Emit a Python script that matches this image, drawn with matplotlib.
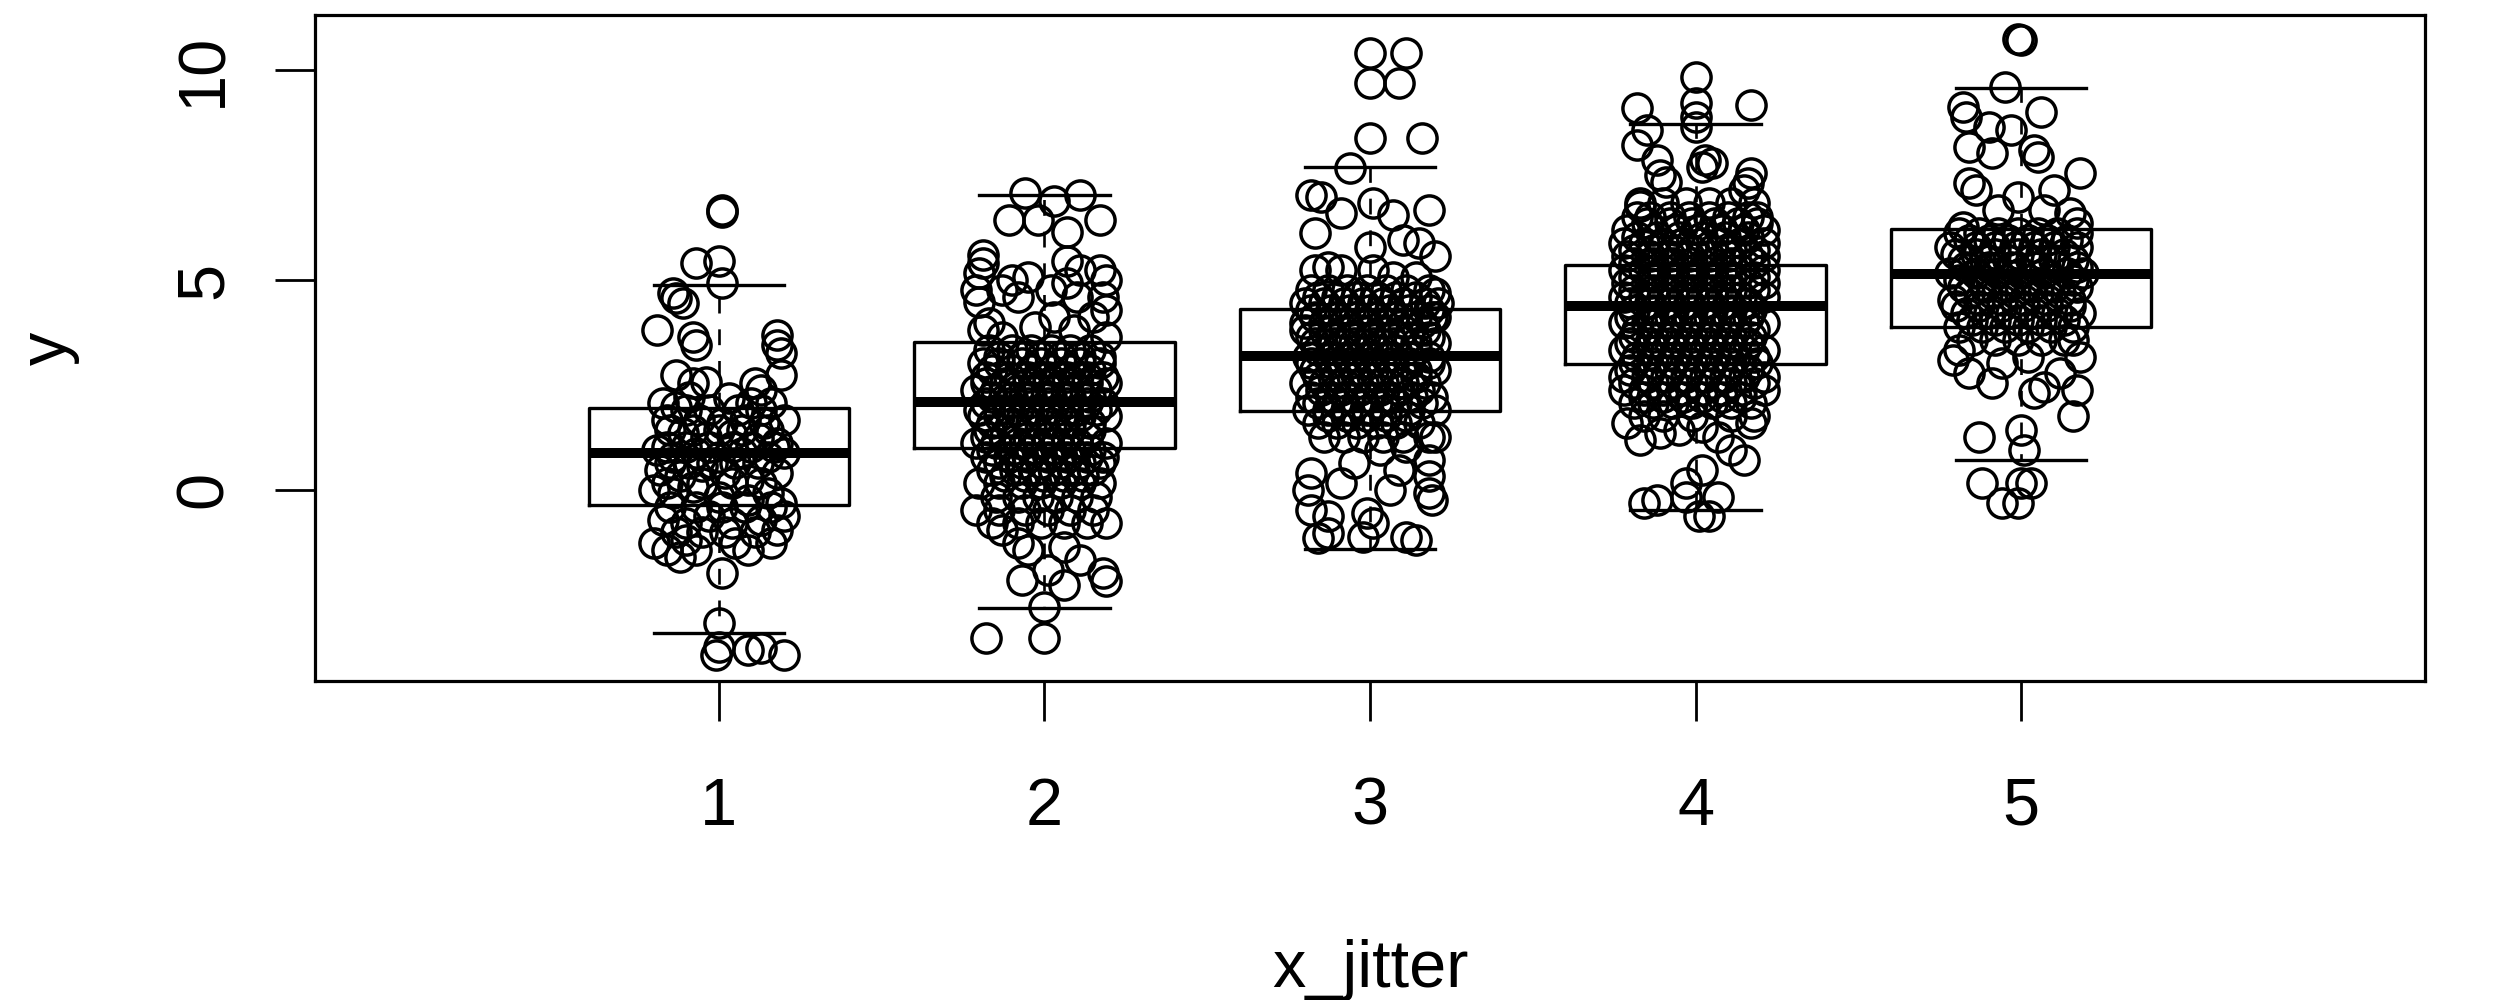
import matplotlib
matplotlib.use("Agg")
import matplotlib.pyplot as plt

plt.rcParams['font.family'] = ['Liberation Sans', 'DejaVu Sans']

# jittered points (x_jitter, y), one list per group
pts1 = [
    (1.01, 6.67), (1.01, 6.63), (0.93, 5.41), (1.00, 5.44), (1.01, 4.92), (0.86, 4.68), (0.87, 4.56),
    (0.89, 4.44), (0.81, 3.81), (0.92, 3.65), (0.93, 3.45), (1.18, 3.69), (1.18, 3.45), (1.19, 3.25),
    (1.19, 2.74), (0.87, 2.74), (0.92, 2.54), (0.96, 2.58), (1.11, 2.54), (1.13, 2.38),
    (0.83, 2.06), (0.87, 1.98), (0.91, 2.22), (1.03, 2.18), (1.10, 2.06), (1.16, 2.06), (1.20, 1.67),
    (0.84, 1.67), (0.94, 1.67), (1.01, 1.59), (1.08, 1.67), (1.14, 1.59),
    (0.89, 1.35), (0.96, 1.27), (1.04, 1.31), (1.12, 1.23), (1.18, 1.11),
    (0.81, 0.95), (0.86, 0.79), (0.93, 0.87), (1.00, 0.79), (1.07, 0.87), (1.15, 0.79), (1.20, 0.87),
    (0.82, 0.48), (0.88, 0.32), (0.95, 0.56), (1.02, 0.40), (1.09, 0.24), (1.18, 0.40),
    (0.80, 0.00), (0.86, -0.08), (0.92, 0.08), (1.00, -0.16), (1.09, -0.24), (1.15, -0.08), (1.19, -0.32),
    (0.83, -0.71), (0.90, -0.79), (0.97, -0.63), (1.04, -0.79), (1.13, -0.71), (1.18, -0.95), (1.20, -0.63),
    (0.80, -1.27), (0.84, -1.43), (0.88, -1.59), (0.93, -1.43), (0.90, -1.19), (1.05, -1.27), (1.09, -1.43),
    (1.16, -1.27), (1.01, -1.98), (1.00, -3.17), (1.00, -3.73), (0.99, -3.93), (1.09, -3.81), (1.13, -3.77),
    (1.20, -3.93),
]
core1 = [
    (1.90, [0.90, 0.97, 1.06, 1.13]),
    (1.43, [0.85, 0.92, 1.00, 1.07, 1.15]),
    (1.03, [0.84, 0.90, 0.97, 1.04, 1.10, 1.17]),
    (0.63, [0.85, 0.91, 0.98, 1.05, 1.12]),
    (0.16, [0.84, 0.95, 1.04, 1.13]),
    (-0.40, [0.85, 0.93, 1.01, 1.08, 1.16]),
    (-1.00, [0.87, 0.95, 1.02, 1.11]),
]

pts2 = [
    (1.94, 7.06), (1.89, 6.43), (1.98, 6.43), (2.03, 6.87), (2.11, 7.02), (2.07, 6.15), (2.17, 6.43),
    (1.81, 5.60), (1.81, 5.40), (1.80, 5.16), (1.79, 4.76), (1.80, 4.48), (1.90, 5.00), (1.95, 5.08),
    (1.87, 4.76), (1.92, 4.60),
    (2.07, 5.44), (2.11, 5.24), (2.17, 5.24), (2.19, 5.00), (2.07, 4.92), (2.18, 4.60), (2.19, 4.29),
    (2.15, 4.13), (2.02, 4.76), (2.10, 4.60),
    (1.83, 3.97), (1.81, 3.81), (2.19, 3.65), (1.87, 3.65), (1.97, 3.89), (2.03, 4.13), (2.09, 3.81),
    (1.87, -0.95), (1.92, -1.27), (1.95, -1.43), (2.06, -1.35), (2.11, -1.67), (1.93, -2.14),
    (2.01, -1.90), (2.06, -2.26), (2.18, -1.98), (2.19, -2.18), (2.00, -2.78), (1.82, -3.53),
    (2.00, -3.53),
]
core2 = [
    (3.33, [1.83, 1.90, 1.96, 2.02, 2.08, 2.14]),
    (3.17, [1.86, 1.93, 1.99, 2.05, 2.11, 2.17]),
    (3.02, [1.81, 1.86, 1.93, 1.99, 2.05, 2.11, 2.17]),
    (2.86, [1.84, 1.90, 1.96, 2.02, 2.08, 2.14]),
    (2.70, [1.82, 1.89, 1.95, 2.01, 2.07, 2.13, 2.18]),
    (2.54, [1.82, 1.88, 1.95, 2.01, 2.07, 2.13, 2.19]),
    (2.38, [1.79, 1.85, 1.92, 1.98, 2.04, 2.10, 2.16]),
    (2.22, [1.84, 1.90, 1.96, 2.02, 2.08, 2.14]),
    (2.06, [1.82, 1.89, 1.95, 2.01, 2.07, 2.13, 2.18]),
    (1.90, [1.80, 1.86, 1.92, 1.98, 2.04, 2.10, 2.16]),
    (1.75, [1.81, 1.86, 1.93, 1.99, 2.05, 2.11, 2.19]),
    (1.59, [1.84, 1.90, 1.96, 2.02, 2.08, 2.14]),
    (1.43, [1.83, 1.90, 1.96, 2.02, 2.08, 2.14]),
    (1.27, [1.82, 1.88, 1.95, 2.01, 2.07, 2.13]),
    (1.11, [1.79, 1.85, 1.92, 1.98, 2.04, 2.10, 2.19]),
    (0.95, [1.84, 1.90, 1.96, 2.02, 2.08, 2.14]),
    (0.79, [1.82, 1.89, 1.95, 2.01, 2.07, 2.13, 2.18]),
    (0.63, [1.86, 1.93, 1.99, 2.05, 2.11, 2.17]),
    (0.48, [1.84, 1.91, 1.97, 2.03, 2.09, 2.15]),
    (0.32, [1.88, 1.94, 2.00, 2.06, 2.12]),
    (0.16, [1.80, 1.86, 1.93, 1.99, 2.05, 2.11, 2.17]),
    (-0.16, [1.85, 1.92, 1.98, 2.04, 2.10, 2.16]),
    (-0.48, [1.79, 1.86, 1.94, 2.01, 2.08, 2.15]),
    (-0.79, [1.84, 1.92, 1.99, 2.06, 2.13, 2.19]),
]

pts3 = [
    (3.00, 10.40), (3.11, 10.40), (3.00, 9.68), (3.09, 9.68), (3.00, 8.37), (3.16, 8.37), (2.94, 7.66),
    (2.82, 7.02), (2.85, 6.98), (2.91, 6.59), (2.83, 6.11), (3.01, 6.83), (3.07, 6.55), (3.18, 6.67),
    (3.00, 5.79), (3.10, 5.95), (3.15, 5.87), (3.20, 5.56),
    (2.83, 5.24), (2.87, 5.32), (2.91, 5.24), (3.01, 5.24), (3.07, 5.08), (3.14, 5.08),
    (3.20, 4.68), (3.20, 4.13), (2.80, 3.97),
    (3.03, 0.95), (3.11, 1.03), (3.18, 0.71), (2.95, 0.63), (3.09, 0.48),
    (2.82, 0.40), (2.81, 0.00), (2.91, 0.16), (2.82, -0.48), (2.87, -0.63), (2.99, -0.56), (3.06, 0.00),
    (3.18, 0.32), (3.19, -0.24), (2.87, -1.03), (2.98, -1.11), (3.11, -1.11), (3.18, -0.08), (3.01, -0.79),
    (2.84, -1.15), (3.14, -1.20),
]
core3 = [
    (4.76, [2.82, 2.87, 2.93, 2.99, 3.05, 3.11, 3.18]),
    (4.60, [2.84, 2.90, 2.96, 3.02, 3.08, 3.14]),
    (4.44, [2.80, 2.86, 2.92, 2.98, 3.04, 3.10, 3.17, 3.21]),
    (4.29, [2.82, 2.88, 2.94, 3.00, 3.06, 3.12, 3.18]),
    (4.13, [2.83, 2.89, 2.95, 3.01, 3.07, 3.14, 3.19]),
    (3.97, [2.86, 2.92, 2.98, 3.04, 3.10, 3.16]),
    (3.81, [2.80, 2.86, 2.92, 2.98, 3.04, 3.10, 3.17]),
    (3.65, [2.82, 2.88, 2.94, 3.00, 3.06, 3.12, 3.18]),
    (3.49, [2.83, 2.89, 2.95, 3.01, 3.07, 3.14, 3.20]),
    (3.33, [2.84, 2.90, 2.96, 3.02, 3.08, 3.14]),
    (3.17, [2.81, 2.87, 2.93, 2.99, 3.05, 3.12, 3.18]),
    (3.02, [2.82, 2.88, 2.94, 3.00, 3.06, 3.12, 3.18]),
    (2.86, [2.83, 2.89, 2.95, 3.01, 3.07, 3.14, 3.20]),
    (2.70, [2.84, 2.90, 2.96, 3.02, 3.08, 3.14]),
    (2.54, [2.80, 2.86, 2.92, 2.98, 3.04, 3.10, 3.17]),
    (2.38, [2.85, 2.91, 2.97, 3.03, 3.09, 3.15]),
    (2.22, [2.82, 2.88, 2.94, 3.00, 3.06, 3.13, 3.19]),
    (2.06, [2.84, 2.90, 2.96, 3.02, 3.08, 3.16]),
    (1.90, [2.81, 2.87, 2.93, 2.99, 3.05, 3.12, 3.20]),
    (1.75, [2.87, 2.93, 2.99, 3.05, 3.11]),
    (1.59, [2.84, 2.90, 2.96, 3.02, 3.08, 3.15]),
    (1.27, [2.86, 2.92, 2.98, 3.04, 3.10, 3.18, 3.20]),
]

pts4 = [
    (4.00, 9.84), (4.00, 9.21), (4.00, 8.89), (4.00, 8.65), (3.82, 9.09), (4.17, 9.17),
    (3.85, 8.57), (3.82, 8.21), (3.88, 7.86), (3.89, 7.50), (3.91, 7.34),
    (4.03, 7.86), (4.02, 7.70), (4.05, 7.78), (4.17, 7.54), (4.16, 7.30), (4.15, 7.14),
    (3.83, 6.75), (3.82, 6.51), (4.19, 6.51),
    (3.79, 1.59), (3.83, 1.19), (3.95, 1.43), (4.02, 1.51), (4.07, 1.27), (4.17, 1.59), (3.89, 1.35),
    (4.11, 0.95), (4.15, 0.71), (4.02, 0.48), (3.97, 0.16), (3.84, -0.32), (3.88, -0.24), (4.01, -0.63),
    (4.07, -0.16), (3.97, -0.16), (4.04, -0.63),
]
core4 = [
    (6.83, [3.83, 3.90, 3.97, 4.04, 4.11, 4.18]),
    (6.51, [3.86, 3.92, 3.98, 4.04, 4.10, 4.16]),
    (6.35, [3.85, 3.92, 3.99, 4.06, 4.13, 4.19]),
    (6.19, [3.79, 3.87, 3.94, 4.01, 4.08, 4.15, 4.21]),
    (6.03, [3.82, 3.88, 3.95, 4.02, 4.09, 4.16]),
    (5.87, [3.78, 3.84, 3.90, 3.96, 4.02, 4.08, 4.14, 4.21]),
    (5.71, [3.81, 3.87, 3.93, 3.99, 4.05, 4.11, 4.18]),
    (5.56, [3.79, 3.86, 3.92, 3.98, 4.04, 4.10, 4.16, 4.21]),
    (5.40, [3.81, 3.87, 3.93, 3.99, 4.05, 4.11, 4.18]),
    (5.24, [3.78, 3.84, 3.90, 3.96, 4.02, 4.08, 4.14, 4.21]),
    (5.08, [3.81, 3.87, 3.93, 3.99, 4.05, 4.11, 4.18]),
    (4.92, [3.79, 3.86, 3.92, 3.98, 4.04, 4.10, 4.16, 4.21]),
    (4.76, [3.81, 3.87, 3.93, 3.99, 4.05, 4.11, 4.18]),
    (4.60, [3.78, 3.84, 3.90, 3.96, 4.02, 4.08, 4.14, 4.21]),
    (4.44, [3.80, 3.86, 3.92, 3.98, 4.04, 4.10, 4.16]),
    (4.29, [3.81, 3.87, 3.93, 3.99, 4.05, 4.11, 4.17]),
    (4.13, [3.80, 3.86, 3.92, 3.98, 4.04, 4.10, 4.16]),
    (3.97, [3.78, 3.85, 3.91, 3.97, 4.03, 4.09, 4.15, 4.21]),
    (3.81, [3.82, 3.88, 3.94, 4.00, 4.06, 4.12, 4.18]),
    (3.65, [3.81, 3.87, 3.93, 3.99, 4.05, 4.11, 4.17]),
    (3.49, [3.80, 3.86, 3.92, 3.98, 4.04, 4.10, 4.16]),
    (3.33, [3.78, 3.85, 3.91, 3.97, 4.03, 4.09, 4.15, 4.21]),
    (3.17, [3.82, 3.88, 3.94, 4.00, 4.06, 4.12, 4.18]),
    (3.02, [3.81, 3.87, 3.93, 3.99, 4.05, 4.11, 4.19]),
    (2.86, [3.80, 3.86, 3.92, 3.98, 4.04, 4.10, 4.16]),
    (2.70, [3.78, 3.85, 3.91, 3.97, 4.03, 4.09, 4.15, 4.21]),
    (2.54, [3.81, 3.87, 3.93, 3.99, 4.05, 4.11, 4.18]),
    (2.38, [3.78, 3.84, 3.90, 3.96, 4.02, 4.08, 4.14, 4.21]),
    (2.22, [3.84, 3.90, 3.96, 4.02, 4.08, 4.14]),
    (2.06, [3.81, 3.87, 3.93, 3.99, 4.05, 4.11, 4.17]),
    (1.75, [3.84, 3.90, 3.99, 4.11, 4.18]),
]

pts5 = [
    (4.99, 10.73), (5.00, 10.71), (4.95, 9.60), (4.82, 9.13), (4.83, 8.89), (5.06, 9.01), (4.90, 8.65),
    (4.97, 8.57), (4.84, 8.17), (4.91, 8.02), (5.04, 8.10), (5.05, 7.94), (5.18, 7.54), (4.84, 7.30),
    (4.86, 7.14), (4.99, 6.98), (5.10, 7.14), (4.93, 6.67), (5.07, 6.67), (5.15, 6.59), (4.82, 6.27),
    (5.17, 6.35),
    (4.81, 3.33), (4.79, 3.10), (4.94, 3.02), (5.02, 3.17), (5.16, 3.57), (5.18, 3.17), (4.91, 2.54),
    (5.04, 2.30), (5.17, 2.38), (5.07, 2.46), (5.16, 1.75), (4.87, 1.27), (5.00, 1.43), (5.01, 0.95),
    (4.88, 0.16), (5.00, 0.16), (5.03, 0.16), (4.94, -0.32), (4.99, -0.32), (4.84, 2.78), (5.12, 2.78),
]
core5 = [
    (6.11, [4.81, 4.87, 4.93, 4.99, 5.05, 5.11, 5.17]),
    (5.95, [4.84, 4.90, 4.96, 5.02, 5.08, 5.14]),
    (5.79, [4.78, 4.86, 4.92, 4.98, 5.04, 5.10, 5.17]),
    (5.63, [4.80, 4.86, 4.92, 4.99, 5.06, 5.13]),
    (5.48, [4.82, 4.89, 4.96, 5.03, 5.10, 5.16]),
    (5.32, [4.83, 4.90, 4.97, 5.04, 5.11, 5.17]),
    (5.16, [4.78, 4.86, 4.93, 5.00, 5.07, 5.14, 5.19]),
    (5.00, [4.81, 4.88, 4.95, 5.02, 5.09, 5.16]),
    (4.84, [4.82, 4.89, 4.96, 5.03, 5.10, 5.17]),
    (4.68, [4.84, 4.91, 4.98, 5.05, 5.12]),
    (4.52, [4.79, 4.87, 4.94, 5.01, 5.08, 5.15]),
    (4.37, [4.80, 4.87, 4.94, 5.01, 5.08, 5.15]),
    (4.21, [4.83, 4.90, 4.97, 5.04, 5.11, 5.18]),
    (4.05, [4.85, 4.92, 4.99, 5.06, 5.13]),
    (3.89, [4.81, 4.88, 4.95, 5.02, 5.09, 5.16]),
    (3.57, [4.85, 4.92, 4.99, 5.06, 5.13]),
]

# box statistics
groups = [1, 2, 3, 4, 5]
whisk_lo = [-3.41, -2.80, -1.41, -0.48, 0.71]
q1 = [-0.36, 0.99, 1.89, 3.00, 3.89]
med = [0.87, 2.09, 3.19, 4.37, 5.14]
q3 = [1.94, 3.53, 4.30, 5.36, 6.21]
whisk_hi = [4.87, 7.02, 7.70, 8.71, 9.58]

fig = plt.figure(figsize=(25, 10), dpi=100)
ax = fig.add_axes([0.126, 0.319, 0.844, 0.666])

for pts, core in [(pts1, core1), (pts2, core2), (pts3, core3), (pts4, core4), (pts5, core5)]:
    xs = [p[0] for p in pts]
    ys = [p[1] for p in pts]
    for yv, row in core:
        xs += row
        ys += [yv] * len(row)
    ax.plot(xs, ys, 'o', mfc='none', mec='black', ms=21, mew=2.5, zorder=2)

stats = []
for i in range(len(groups)):
    stats.append(dict(whislo=whisk_lo[i], q1=q1[i], med=med[i], q3=q3[i], whishi=whisk_hi[i]))

ax.bxp(stats, positions=groups, widths=0.8, capwidths=0.4, showfliers=False,
       boxprops=dict(color='black', linewidth=2.4),
       whiskerprops=dict(color='black', linewidth=1.9, linestyle=(0, (6, 6))),
       capprops=dict(color='black', linewidth=2.4),
       medianprops=dict(color='black', linewidth=7.2, solid_capstyle='butt'),
       manage_ticks=False, zorder=3)

ax.set_xlim(-0.24, 6.24)
ax.set_ylim(-4.55, 11.31)
ax.set_xticks(groups)
ax.set_xticklabels([str(g) for g in groups], fontsize=48)
ax.set_yticks([0, 5, 10])
ax.set_yticklabels(['0', '5', '10'], fontsize=48, rotation=90, va='center')
ax.tick_params(axis='both', length=29, width=2.0, direction='out', color='black')
ax.tick_params(axis='x', pad=40)
ax.tick_params(axis='y', pad=28)
for s in ax.spines.values():
    s.set_linewidth(2.3)

fig.text(0.548, 1 - 987 / 1000, 'x_jitter', fontsize=48, ha='center', va='baseline')
fig.text(66 / 2500, 1 - 348 / 1000, 'y', fontsize=48, rotation=90,
         rotation_mode='anchor', ha='center', va='baseline')

fig.savefig('out.png', dpi=100)
